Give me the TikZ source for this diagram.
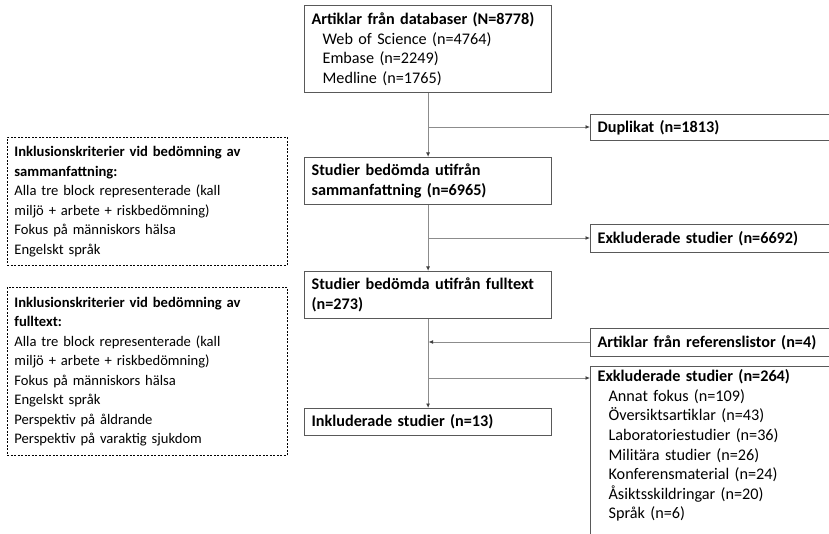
\documentclass[tikz,border=0pt]{standalone}
\usepackage{fontspec}
\setmainfont{Carlito}
\usetikzlibrary{arrows.meta}

\definecolor{boxgray}{HTML}{595959}
\definecolor{linegray}{HTML}{8C8C8C}
\def\ind{\hspace*{11pt}}
\def\fs{\fontsize{16.2}{19.6}\selectfont}
\def\fc{\fontsize{14.6}{19.5}\selectfont}
\tikzstyle{stage}=[draw=boxgray, line width=1.2pt, anchor=north west,
                   align=left, inner xsep=7pt, inner ysep=2pt,
                   text width=233pt, font=\fs]
\tikzstyle{side}=[stage, text width=250pt]
\tikzstyle{crit}=[draw=black, dash pattern=on 2pt off 1.5pt, line width=0.8pt,
                  anchor=north west, align=left, inner xsep=7pt,
                  inner ysep=2pt, text width=266pt, font=\fc]
\tikzstyle{flow}=[draw=linegray, line width=0.9pt,
                  -{Latex[length=4.5pt,width=4pt,color=black!75]}]

\begin{document}
\begin{tikzpicture}[x=1pt, y=-1pt]
  \useasboundingbox (0,0) rectangle (829,534);
  \clip (0,0) rectangle (829,534);

  % main column
  \node[stage, minimum height=87pt] (db) at (304,5)
    {\textbf{Artiklar från databaser (N=8778)}\\
     \ind Web of Science (n=4764)\\
     \ind Embase (n=2249)\\
     \ind Medline (n=1765)};
  \node[stage, minimum height=47pt] (abs) at (304,157)
    {\textbf{Studier bedömda utifrån}\\ \textbf{sammanfattning (n=6965)}};
  \node[stage, minimum height=47pt] (full) at (304,271)
    {\textbf{Studier bedömda utifrån fulltext}\\ \textbf{(n=273)}};
  \node[stage, minimum height=27pt] (incl) at (304,408)
    {\textbf{Inkluderade studier (n=13)}};

  % side boxes
  \node[side, minimum height=26pt] (dup) at (590,114)
    {\textbf{Duplikat (n=1813)}};
  \node[side, minimum height=28pt] (exabs) at (590,224)
    {\textbf{Exkluderade studier (n=6692)}};
  \node[side, minimum height=28pt] (ref) at (590,328)
    {\textbf{Artiklar från referenslistor (n=4)}};
  \node[side, inner ysep=3pt] (exfull) at (590,366)
    {\textbf{Exkluderade studier (n=264)}\\
     \ind Annat fokus (n=109)\\
     \ind Översiktsartiklar (n=43)\\
     \ind Laboratoriestudier (n=36)\\
     \ind Militära studier (n=26)\\
     \ind Konferensmaterial (n=24)\\
     \ind Åsiktsskildringar (n=20)\\
     \ind Språk (n=6)\\ \mbox{}};

  % criteria
  \node[crit, minimum height=128pt] (critabs) at (7,137)
    {\textbf{Inklusionskriterier vid bedömning av}\\
     \textbf{sammanfattning:}\\
     Alla tre block representerade (kall\\
     miljö + arbete + riskbedömning)\\
     Fokus på människors hälsa\\
     Engelskt språk};
  \node[crit, minimum height=168pt] (critfull) at (7,287)
    {\textbf{Inklusionskriterier vid bedömning av}\\
     \textbf{fulltext:}\\
     Alla tre block representerade (kall\\
     miljö + arbete + riskbedömning)\\
     Fokus på människors hälsa\\
     Engelskt språk\\
     Perspektiv på åldrande\\
     Perspektiv på varaktig sjukdom};

  \coordinate (j1) at (428.5,127);
  \coordinate (j2) at (428.5,238);
  \coordinate (j3) at (428.5,342);
  \coordinate (j4) at (428.5,378);

  \path (db) edge[flow] (abs);
  \path (abs) edge[flow] (full);
  \path (full) edge[flow] (incl);
  \path (j1) edge[flow] (j1 -| dup.west);
  \path (j2) edge[flow] (j2 -| exabs.west);
  \path (j3 -| ref.west) edge[flow] (j3);
  \path (j4) edge[flow] (j4 -| exfull.west);
\end{tikzpicture}
\end{document}
